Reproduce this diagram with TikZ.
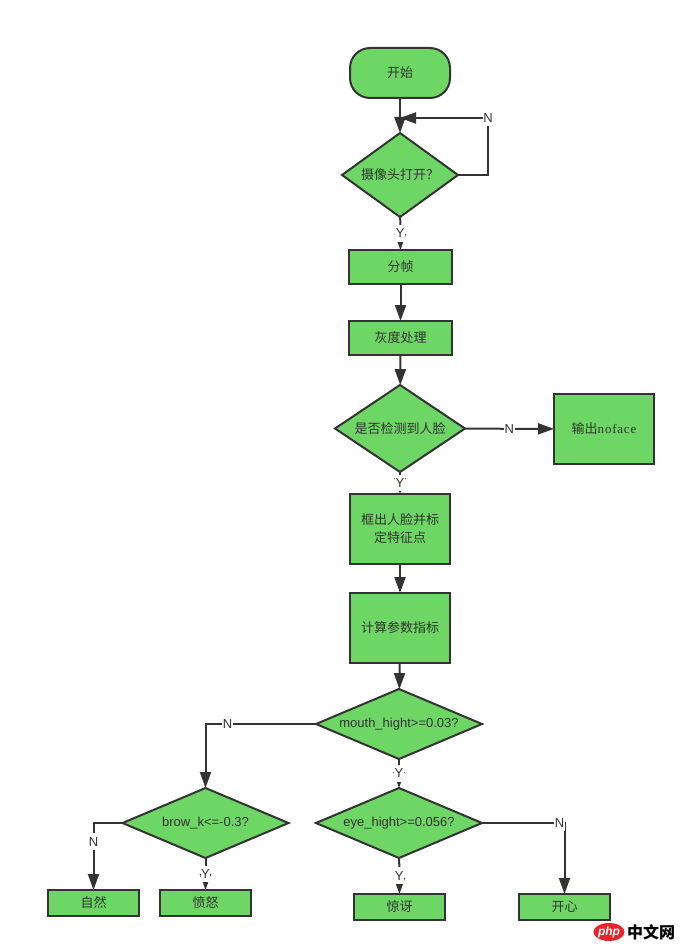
\documentclass[tikz,border=0pt]{standalone}
\usepackage{fontspec}
\setmainfont{Liberation Sans}
\newfontfamily\cjk{Noto Sans CJK SC}
\newfontfamily\latinserif{Liberation Serif}
\usetikzlibrary{arrows.meta,shapes.geometric}
\definecolor{mygreen}{RGB}{109,214,100}
\definecolor{myline}{RGB}{51,51,51}
\definecolor{myred}{RGB}{232,36,42}

\begin{document}
\begin{tikzpicture}[
    x=1pt,y=-1pt,
    every node/.style={font=\fontsize{13}{18}\selectfont\cjk,text=myline,align=center},
    box/.style={rectangle,draw=myline,fill=mygreen,line width=2pt,inner sep=0pt,outer sep=0pt},
    startbox/.style={box,rounded corners=20pt,minimum width=100pt,minimum height=50pt},
    smallbox/.style={box,minimum width=103pt,minimum height=34pt},
    bigbox/.style={box,minimum width=100pt,minimum height=70pt},
    leafbox/.style={box,minimum width=91pt,minimum height=26pt},
    choice/.style={diamond,draw=myline,fill=mygreen,line width=2pt,inner sep=0pt,outer sep=0pt},
    wide/.style={choice,aspect=2.37,minimum width=166pt,minimum height=70pt},
    arrow/.style={-{Triangle[length=16pt,width=11pt]},draw=myline,line width=2pt},
    plain/.style={draw=myline,line width=2pt},
    lbl/.style={fill=white,inner xsep=0.5pt,inner ysep=4pt,font=\fontsize{13}{13}\selectfont}
]
    \useasboundingbox (0,0) rectangle (686,952);

    % Main column
    \node[startbox] (start) at (400,73) {开始};
    \node[choice,aspect=1.38,minimum width=116pt,minimum height=84pt] (camera) at (400,175) {摄像头打开？};
    \node[smallbox] (split) at (400.5,267) {分帧};
    \node[smallbox] (gray) at (400.5,338) {灰度处理};
    \node[choice,aspect=1.5,minimum width=130pt,minimum height=87pt] (face) at (400,428.5) {是否检测到人脸};
    \node[bigbox] (noface) at (604,429) {输出{\latinserif\addfontfeature{LetterSpace=6}noface}};
    \node[bigbox] (mark) at (400,529) {框出人脸并标\\定特征点};
    \node[bigbox] (calc) at (400,628) {计算参数指标};

    % Expression checks
    \node[wide] (mouth) at (399,724) {\rmfamily mouth\_hight>=0.03?};
    \node[wide] (eye) at (399,823) {\rmfamily eye\_hight>=0.056?};
    \node[wide] (brow) at (205.5,823) {\rmfamily brow\_k<=-0.3?};
    \node[leafbox] (natural) at (93.5,903) {自然};
    \node[leafbox] (angry) at (205.5,903) {愤怒};
    \node[leafbox] (surprise) at (399.5,907) {惊讶};
    \node[leafbox] (happy) at (564.5,907) {开心};

    % Corners of the camera loop
    \coordinate (loopdown) at (488,175);
    \coordinate (loopup) at (488,118);
    \coordinate (loopend) at (400,118);

    % Connectors
    \draw[arrow] (start) -- (camera);
    \draw[plain] (camera) -- (loopdown) -- (loopup);
    \draw[arrow] (loopup) -- (loopend);
    \node[lbl] (loopN) at (loopup) {\rmfamily N};
    \draw[arrow] (camera) -- node[lbl] (cameraY) {\rmfamily Y} (split);
    \draw[arrow] (split) -- (gray);
    \draw[arrow] (gray) -- (face);
    \draw[arrow] (face) -- node[lbl] (faceN) {\rmfamily N} (noface);
    \draw[arrow] (face) -- node[lbl] (faceY) {\rmfamily Y} (mark);
    \draw[arrow] (mark) -- (calc);
    \draw[arrow] (calc) -- (mouth);
    \draw[arrow] (mouth) -| node[lbl,pos=0.4] (mouthN) {\rmfamily N} (brow);
    \draw[arrow] (mouth) -- node[lbl] (mouthY) {\rmfamily Y} (eye);
    \draw[arrow] (brow) -| node[lbl,pos=0.64] (browN) {\rmfamily N} (natural);
    \draw[arrow] (brow) -- node[lbl] (browY) {\rmfamily Y} (angry);
    \draw[arrow] (eye) -| node[lbl,pos=0.47] (eyeN) {\rmfamily N} (happy);
    \draw[arrow] (eye) -- node[lbl] (eyeY) {\rmfamily Y} (surprise);

    % Watermark
    \node[ellipse,fill=myred,minimum width=29pt,minimum height=18pt,inner sep=0pt,text=white,font=\fontsize{12}{12}\selectfont\rmfamily\bfseries\itshape] (logo) at (609,932) {php};
    \node[text=black,font=\fontsize{16}{16}\selectfont\cjk\bfseries,anchor=west,inner sep=0pt] (site) at (627,932) {中文网};
\end{tikzpicture}
\end{document}
